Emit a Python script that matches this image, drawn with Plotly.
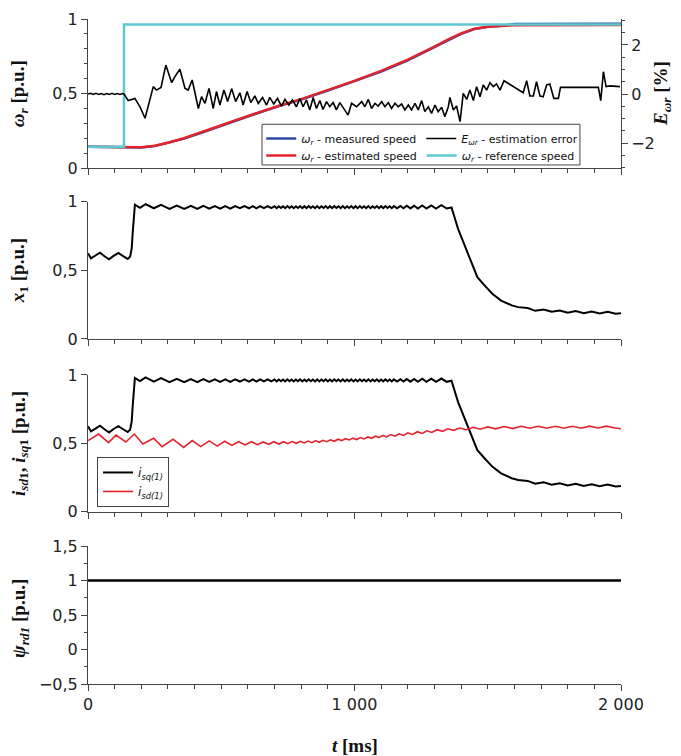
import plotly.graph_objects as go

# ---- data (time in ms) ----
spd_t = [0, 135, 200, 250, 300, 360, 420, 490, 560, 640, 720, 800,
         900, 1000, 1100, 1200, 1300, 1350, 1400, 1450, 1500, 1560, 1600, 2000]
est_v = [.143, .143, .140, .150, .170, .200, .235, .280, .325, .375, .420, .462,
         .522, .585, .652, .727, .815, .862, .903, .935, .948, .955, .958, .960]
meas_v = [.143, .142, .138, .147, .168, .197, .233, .277, .322, .371, .417, .459,
          .519, .582, .648, .722, .810, .858, .900, .932, .948, .957, .966, .968]

ref_t = [0, 135, 135, 2000]
ref_v = [.143, .143, .963, .963]

err_t = [0, 10, 20, 30, 40, 50, 60, 70, 80, 90,
         100, 110, 120, 130, 135, 151, 176, 195, 214, 232,
         245, 257, 274, 292, 314, 326, 345, 364, 376, 391,
         414, 426, 439, 454, 470, 482, 495, 510, 524, 539,
         554, 570, 582, 597, 611, 626, 639, 655, 670, 682,
         697, 711, 726, 739, 754, 767, 782, 795, 807, 820,
         832, 845, 857, 870, 882, 895, 907, 920, 932, 945,
         957, 976, 989, 1008, 1027, 1039, 1052, 1064, 1077, 1089,
         1102, 1114, 1127, 1139, 1152, 1164, 1177, 1189, 1202, 1214,
         1227, 1239, 1252, 1264, 1277, 1289, 1302, 1314, 1327, 1339,
         1352, 1358, 1371, 1383, 1396, 1408, 1421, 1433, 1446, 1458,
         1471, 1483, 1496, 1508, 1521, 1533, 1546, 1561, 1633, 1646,
         1658, 1671, 1683, 1696, 1708, 1721, 1733, 1748, 1765, 1773,
         1915, 1924, 1934, 1944, 1959, 1996]
err_v = [0.00, 0.03, -0.02, 0.03, -0.02, 0.02, -0.03, 0.02, -0.02, 0.03,
         -0.02, 0.02, -0.02, 0.02, 0.00, -0.27, -0.18, -0.52, -0.99, -0.24,
         0.30, 0.16, 0.27, 1.18, 0.46, 0.71, 1.01, 0.23, 0.16, 0.57,
         -0.59, -0.11, -0.38, 0.23, -0.59, 0.10, -0.45, 0.16, -0.31, 0.22,
         -0.31, 0.05, -0.45, 0.10, -0.35, -0.08, -0.38, -0.14, -0.45, -0.14,
         -0.41, -0.18, -0.49, -0.22, -0.45, -0.24, -0.52, -0.19, -0.52, -0.24,
         -0.65, -0.14, -0.59, -0.27, -0.63, -0.31, -0.52, -0.35, -0.65, -0.35,
         -0.54, -0.86, -0.38, -0.52, -0.31, -0.52, -0.22, -0.59, -0.38, -0.49,
         -0.31, -0.52, -0.35, -0.59, -0.38, -0.52, -0.41, -0.65, -0.45, -0.65,
         -0.38, -0.65, -0.27, -0.72, -0.52, -0.79, -0.45, -0.72, -0.54, -0.93,
         -0.52, -0.14, -0.65, -0.49, -1.13, 0.03, -0.22, 0.16, -0.27, 0.30,
         -0.11, 0.37, 0.16, 0.46, 0.30, 0.41, 0.16, 0.54, 0.05, 0.54,
         -0.08, -0.08, 0.50, -0.08, -0.11, 0.37, 0.41, -0.18, -0.18, 0.27,
         0.27, -0.27, 0.91, 0.30, 0.33, 0.30]

x1_t = [0, 11, 28, 45, 62, 79, 96, 114, 132, 149,
        158, 164, 168, 172, 176, 195, 216, 247, 274, 306,
        333, 361, 386, 410, 433, 455, 476, 496, 515, 534,
        552, 570, 587, 604, 618, 632, 646, 660, 674, 688,
        700, 708, 716, 724, 732, 740, 748, 756, 764, 772,
        780, 788, 796, 804, 812, 820, 828, 836, 844, 852,
        860, 868, 876, 884, 892, 900, 908, 916, 924, 932,
        940, 948, 956, 964, 972, 980, 988, 996, 1004, 1012,
        1020, 1028, 1036, 1044, 1052, 1060, 1068, 1076, 1084, 1092,
        1100, 1108, 1116, 1124, 1132, 1140, 1148, 1160, 1172, 1184,
        1196, 1210, 1224, 1238, 1254, 1270, 1288, 1306, 1326, 1346,
        1364, 1389, 1413, 1437, 1461, 1493, 1517, 1550, 1590, 1614,
        1650, 1678, 1710, 1740, 1770, 1800, 1830, 1860, 1890, 1920,
        1950, 1980, 2000]
x1_v = [.624, .588, .608, .629, .603, .580, .605, .626, .603, .583,
        .600, .660, .780, .930, .978, .955, .982, .952, .977, .948,
        .972, .948, .970, .948, .970, .950, .968, .950, .968, .950,
        .968, .952, .968, .952, .968, .952, .968, .953, .968, .953,
        .967, .953, .967, .954, .967, .953, .968, .954, .967, .953,
        .967, .954, .968, .953, .967, .953, .968, .954, .967, .953,
        .968, .953, .967, .954, .968, .953, .967, .953, .968, .954,
        .967, .953, .968, .953, .967, .954, .968, .953, .967, .953,
        .968, .954, .967, .953, .968, .953, .967, .954, .968, .953,
        .967, .953, .968, .954, .967, .953, .968, .952, .969, .952,
        .970, .951, .971, .950, .972, .950, .973, .950, .974, .950,
        .958, .800, .680, .560, .450, .380, .330, .280, .245, .232,
        .225, .205, .215, .198, .208, .192, .204, .188, .200, .186,
        .198, .184, .188]

# i_sq(1) follows the same trace as x1 in the reference
isq_t = list(x1_t)
isq_v = list(x1_v)

isd_t = [0, 40, 77, 105, 142, 174, 206, 246, 278, 319,
         359, 391, 423, 455, 485, 513, 540, 565, 590, 613,
         636, 657, 678, 698, 716, 734, 750, 766, 782, 797,
         812, 826, 840, 854, 868, 882, 896, 910, 924, 938,
         952, 966, 980, 994, 1008, 1022, 1036, 1050, 1064, 1078,
         1092, 1106, 1120, 1136, 1152, 1168, 1184, 1200, 1218, 1236,
         1254, 1272, 1290, 1310, 1330, 1350, 1372, 1395, 1420, 1446,
         1472, 1500, 1530, 1562, 1594, 1626, 1658, 1690, 1722, 1754,
         1786, 1818, 1850, 1882, 1914, 1946, 1978, 2000]
isd_v = [.520, .568, .505, .560, .510, .568, .495, .537, .476, .530,
         .470, .520, .476, .518, .480, .515, .485, .512, .488, .512,
         .490, .510, .493, .512, .495, .512, .498, .513, .500, .515,
         .503, .517, .505, .520, .508, .522, .512, .526, .515, .530,
         .520, .534, .525, .538, .528, .542, .532, .547, .537, .552,
         .542, .558, .547, .564, .552, .570, .558, .577, .565, .585,
         .572, .592, .580, .600, .588, .606, .595, .612, .600, .617,
         .603, .620, .606, .623, .608, .625, .610, .625, .610, .625,
         .610, .625, .610, .626, .612, .626, .612, .607]

psi_t = [0, 2000]
psi_v = [1.0, 1.0]

x_ticks = [0, 1000, 2000]
x_ticktext = ["0", "1 000", "2 000"]

# ---- figure ----
BLACK = "black"
RED = "#e3232c"
BLUE = "#2a4aa6"
CYAN = "#5cc9d1"
AX = "#444444"
TICKFONT = dict(family="DejaVu Sans", size=16, color="#222")
TITLEFONT = dict(family="Liberation Serif, DejaVu Serif", size=19, color="#111")
LEGFONT = dict(family="DejaVu Sans", size=12, color="#111")
TOPLEGFONT = dict(family="DejaVu Sans", size=11, color="#111")

fig = go.Figure()

fig.add_trace(go.Scatter(x=spd_t, y=meas_v, mode="lines", line=dict(color=BLUE, width=2.5),
                         name="<i>ω<sub>r</sub></i> - measured speed", legend="legend"))
fig.add_trace(go.Scatter(x=spd_t, y=est_v, mode="lines", line=dict(color=RED, width=2.5),
                         name="<i>ω<sub>r</sub></i> - estimated speed", legend="legend3"))
fig.add_trace(go.Scatter(x=ref_t, y=ref_v, mode="lines", line=dict(color=CYAN, width=2.5),
                         name="<i>ω<sub>r</sub></i> - reference speed", legend="legend3"))
fig.add_trace(go.Scatter(x=err_t, y=err_v, mode="lines", line=dict(color=BLACK, width=1.6),
                         yaxis="y5", name="<i>E<sub>ωr</sub></i> - estimation error",
                         legend="legend"))

fig.add_trace(go.Scatter(x=x1_t, y=x1_v, mode="lines", line=dict(color=BLACK, width=2),
                         xaxis="x2", yaxis="y2", showlegend=False))

fig.add_trace(go.Scatter(x=isq_t, y=isq_v, mode="lines", line=dict(color=BLACK, width=2),
                         xaxis="x3", yaxis="y3", name="<i>i<sub>sq(1)</sub></i>", legend="legend2"))
fig.add_trace(go.Scatter(x=isd_t, y=isd_v, mode="lines", line=dict(color=RED, width=1.6),
                         xaxis="x3", yaxis="y3", name="<i>i<sub>sd(1)</sub></i>", legend="legend2"))

fig.add_trace(go.Scatter(x=psi_t, y=psi_v, mode="lines", line=dict(color=BLACK, width=2.5),
                         xaxis="x4", yaxis="y4", showlegend=False))

D1, D2, D3, D4 = [0.7759, 1.0], [0.5188, 0.7253], [0.2591, 0.4647], [0.0, 0.2075]

common = dict(showline=True, linecolor=AX, linewidth=1, ticks="outside", tickcolor=AX,
              ticklen=6, showgrid=False, zeroline=False, tickfont=TICKFONT, automargin=False)


def xax(anchor, labels):
    return dict(common, domain=[0, 1], range=[0, 2000], anchor=anchor,
                tickvals=x_ticks, ticktext=x_ticktext, showticklabels=labels,
                minor=dict(tick0=0, dtick=100, ticks="outside", ticklen=4, tickcolor=AX))


# legend rows for the top panel: two one-row legends inside one drawn box
top_leg = dict(xanchor="left", yanchor="top", orientation="h", x=0.325,
               bgcolor="rgba(0,0,0,0)", borderwidth=0, font=TOPLEGFONT)

# the page body adds an 8 px offset, so the figure is sized to fit inside the window
fig.update_layout(
    width=673, height=748,
    margin=dict(l=80, r=60, t=11, b=72, autoexpand=False),
    plot_bgcolor="white", paper_bgcolor="white",
    separators=", ",
    xaxis=xax("y", False),
    xaxis2=xax("y2", False),
    xaxis3=xax("y3", False),
    xaxis4=xax("y4", True),
    yaxis=dict(common, domain=D1, range=[0, 1], anchor="x", tickvals=[0, 0.5, 1],
               minor=dict(dtick=0.1, ticks="outside", ticklen=3, tickcolor=AX)),
    yaxis5=dict(common, overlaying="y", side="right", anchor="x", range=[-3.02, 3.06],
                tickvals=[-2, 0, 2],
                minor=dict(tick0=0, dtick=0.5, ticks="outside", ticklen=3, tickcolor=AX)),
    yaxis2=dict(common, domain=D2, range=[0, 1], anchor="x2", tickvals=[0, 0.5, 1]),
    yaxis3=dict(common, domain=D3, range=[0, 1], anchor="x3", tickvals=[0, 0.5, 1]),
    yaxis4=dict(common, domain=D4, range=[-0.5, 1.5], anchor="x4", dtick=0.5,
                minor=dict(dtick=0.25, ticks="outside", ticklen=3, tickcolor=AX)),
    legend=dict(top_leg, y=0.8421),
    legend3=dict(top_leg, y=0.8165),
    legend2=dict(x=0.017, y=0.3414, xanchor="left", yanchor="top",
                 bordercolor=AX, borderwidth=1, bgcolor="white", font=LEGFONT),
    showlegend=True,
)

fig.add_shape(type="rect", xref="paper", yref="paper", x0=0.3265, x1=0.923,
              y0=0.7805, y1=0.8417, line=dict(color=AX, width=1), fillcolor="white",
              layer="above")

titles = [
    ("<b><i>ω<sub>r</sub></i> [p.u.]</b>", 0.888),
    ("<b><i>x</i><sub>1</sub> [p.u.]</b>", 0.622),
    ("<b><i>i<sub>sd</sub></i><sub>1</sub>, <i>i<sub>sq</sub></i><sub>1</sub> [p.u.]</b>", 0.362),
    ("<b><i>ψ<sub>rd1</sub></i> [p.u.]</b>", 0.099),
]
for txt, yy in titles:
    fig.add_annotation(text=txt, x=-0.128, y=yy, xref="paper", yref="paper",
                       textangle=-90, showarrow=False, font=TITLEFONT,
                       xanchor="center", yanchor="middle")

fig.add_annotation(text="<b><i>E<sub>ωr</sub></i> [%]</b>", x=1.078, y=0.888,
                   xref="paper", yref="paper", textangle=-90, showarrow=False,
                   font=TITLEFONT, xanchor="center", yanchor="middle")
fig.add_annotation(text="<b><i>t</i> [ms]</b>", x=0.5, y=-0.092, xref="paper", yref="paper",
                   showarrow=False, font=TITLEFONT, xanchor="center", yanchor="middle")

fig.write_html("out.html")
